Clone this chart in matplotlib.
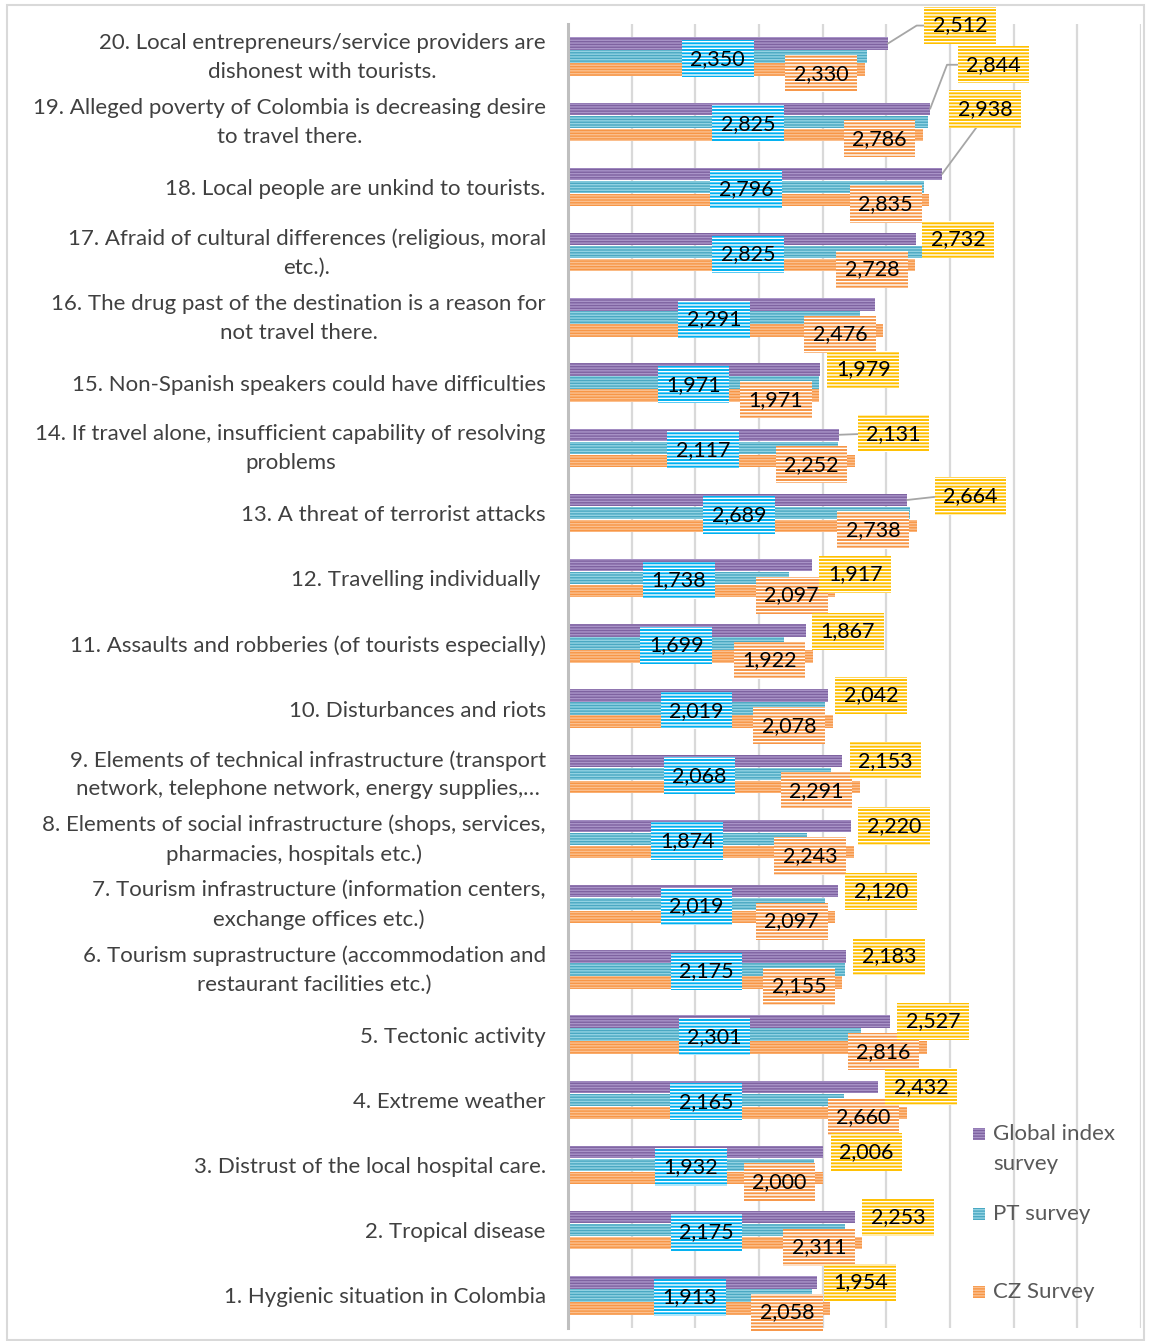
import matplotlib
matplotlib.use("Agg")
import matplotlib.pyplot as plt
from matplotlib.patches import Rectangle
from matplotlib.transforms import ScaledTranslation

plt.rcParams['font.family'] = ['Lato', 'DejaVu Sans']
plt.rcParams['hatch.linewidth'] = 1.0

W, H = 1152, 1341

items = [
    "1. Hygienic situation in Colombia",
    "2. Tropical disease",
    "3. Distrust of the local hospital care.",
    "4. Extreme weather",
    "5. Tectonic activity",
    "6. Tourism suprastructure (accommodation and\nrestaurant facilities etc.)",
    "7. Tourism infrastructure (information centers,\nexchange offices etc.)",
    "8. Elements of social infrastructure (shops, services,\npharmacies, hospitals etc.)",
    "9. Elements of technical infrastructure (transport\nnetwork, telephone network, energy supplies,\u2026",
    "10. Disturbances and riots",
    "11. Assaults and robberies (of tourists especially)",
    "12. Travelling individually ",
    "13. A threat of terrorist attacks",
    "14. If travel alone, insufficient capability of resolving\nproblems",
    "15. Non-Spanish speakers could have difficulties",
    "16. The drug past of the destination is a reason for\nnot travel there.",
    "17. Afraid of cultural differences (religious, moral\netc.).",
    "18. Local people are unkind to tourists.",
    "19. Alleged poverty of Colombia is decreasing desire\nto travel there.",
    "20. Local entrepreneurs/service providers are\ndishonest with tourists.",
]

global_idx = [1.954, 2.253, 2.006, 2.432, 2.527, 2.183, 2.120, 2.220, 2.153, 2.042,
              1.867, 1.917, 2.664, 2.131, 1.979, 2.410, 2.732, 2.938, 2.844, 2.512]
pt_survey = [1.913, 2.175, 1.932, 2.165, 2.301, 2.175, 2.019, 1.874, 2.068, 2.019,
             1.699, 1.738, 2.689, 2.117, 1.971, 2.291, 2.825, 2.796, 2.825, 2.350]
cz_survey = [2.058, 2.311, 2.000, 2.660, 2.816, 2.155, 2.097, 2.243, 2.291, 2.078,
             1.922, 2.097, 2.738, 2.252, 1.971, 2.476, 2.728, 2.835, 2.786, 2.330]

series_names = ["Global index\nsurvey", "PT survey", "CZ Survey"]

# label for item 16 (global) is not shown in the original
hidden_global = {16}

# pixel offsets of the global labels that Excel moved (item: (dx, dy, leader))
global_moves = {
    20: (45, 18, dict(relpos=(0, 0.5), connectionstyle="angle,angleA=0,angleB=32,rad=0")),
    19: (36, 44, dict(relpos=(0, 0.5), connectionstyle="angle,angleA=0,angleB=69,rad=0")),
    18: (16, 65, dict(relpos=(0.45, 0))),
    17: (15, 0, None),
    14: (27, 1, dict(relpos=(0, 0.5))),
    13: (36, 4, dict(relpos=(0, 0.5))),
    12: (16, -9, None),
    11: (15, -1, None),
}

purple, purple_l = "#7E62A0", "#A994C8"
cyan, cyan_l = "#4AA8C2", "#93D3E3"
orange, orange_l = "#F79646", "#FBC08F"
yellow_box = "#FFC000"
cyan_box = "#00B0F0"
orange_box = "#F79646"


def fmt(v):
    return f"{v:.3f}".replace(".", ",")


fig = plt.figure(figsize=(W / 100, H / 100), dpi=100)
ax = fig.add_axes([568 / W, 1 - 1328 / H, (1141 - 568) / W, (1328 - 24) / H])

ys = list(range(1, len(items) + 1))
bh = 0.19
hatch = "------"
ax.barh([y + 0.2 for y in ys], global_idx, height=bh, color=purple, edgecolor=purple_l,
        hatch=hatch, linewidth=0, zorder=2)
ax.barh(ys, pt_survey, height=bh, color=cyan, edgecolor=cyan_l,
        hatch=hatch, linewidth=0, zorder=2)
ax.barh([y - 0.2 for y in ys], cz_survey, height=bh, color=orange, edgecolor=orange_l,
        hatch=hatch, linewidth=0, zorder=2)

ax.set_xlim(0, 4.5)
ax.set_ylim(0.5, 20.5)
ax.set_xticks([i * 0.5 for i in range(10)])
ax.set_xticklabels([])
ax.tick_params(length=0)
ax.grid(axis="x", color="#D9D9D9", linewidth=1.6, zorder=0)
ax.set_axisbelow(True)
for s in ["top", "right", "bottom"]:
    ax.spines[s].set_visible(False)
ax.spines["left"].set_color("#BFBFBF")
ax.spines["left"].set_linewidth(2.2)
ax.spines["left"].set_zorder(3)

ax.set_yticks(ys)
ax.set_yticklabels(items, fontsize=16, color="#404040", linespacing=1.55,
                   multialignment="center")
ax.tick_params(axis="y", pad=16)
# two-line labels sit a little higher in the original
lift = ScaledTranslation(0, 4 / 72, fig.dpi_scale_trans)
for t in ax.get_yticklabels():
    if "\n" in t.get_text():
        t.set_transform(t.get_transform() + lift)

lab_fs = 15.5
pad = 0.4


def box(c):
    return dict(boxstyle=f"square,pad={pad}", facecolor=c, edgecolor="white",
                hatch="-----", linewidth=0)


for y, g, p, c in zip(ys, global_idx, pt_survey, cz_survey):
    # PT label, centred on the bar
    ax.annotate(fmt(p), (p / 2, y), xytext=(0, -2), textcoords="offset pixels",
                ha="center", va="center", fontsize=lab_fs, color="black",
                bbox=box(cyan_box), zorder=5)
    # CZ label, inside end
    ax.annotate(fmt(c), (c, y - 0.2), xytext=(-16, -4), textcoords="offset pixels",
                ha="right", va="center", fontsize=lab_fs, color="black",
                bbox=box(orange_box), zorder=6)
    # Global label, outside end
    if y in hidden_global:
        continue
    dx, dy, lead = global_moves.get(y, (16, 0, None))
    kw = {}
    if lead is not None:
        kw["arrowprops"] = dict(arrowstyle="-", color="#A6A6A6", lw=1.3,
                                shrinkA=0, shrinkB=0, **lead)
    ax.annotate(fmt(g), (g, y + 0.2), xytext=(dx, dy), textcoords="offset pixels",
                ha="left", va="center", fontsize=lab_fs, color="black",
                bbox=box(yellow_box), zorder=7, **kw)

# legend drawn by hand
leg = [(purple, purple_l, 1134), (cyan, cyan_l, 1214), (orange, orange_l, 1292)]
for (fc, hc, yc), name in zip(leg, series_names):
    fig.add_artist(Rectangle((973 / W, 1 - (yc + 6) / H), 12 / W, 12 / H,
                             transform=fig.transFigure, facecolor=fc, edgecolor=hc,
                             hatch="------", linewidth=0))
    for i, line in enumerate(name.split("\n")):
        fig.text(993 / W, 1 - (yc + i * 30) / H, line, ha="left", va="center",
                 fontsize=16, color="#595959")

# chart border
fig.add_artist(Rectangle((7 / W, 1 - 1340 / H), (1144 - 7) / W, (1340 - 5) / H,
                         transform=fig.transFigure, fill=False, edgecolor="#D9D9D9",
                         linewidth=1.5))

fig.savefig("out.png", dpi=100)
